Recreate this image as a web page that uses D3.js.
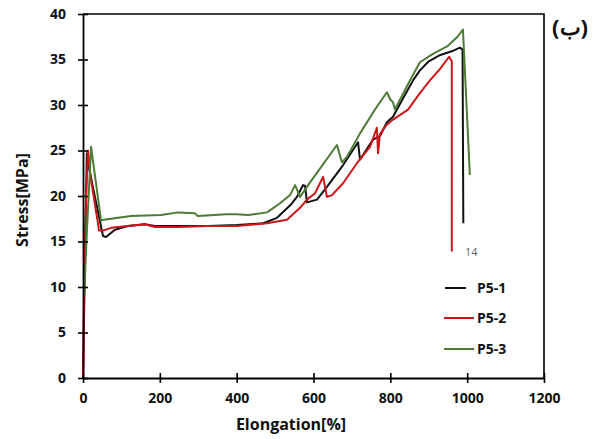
<!DOCTYPE html>
<html><head><meta charset="utf-8">
<script src="https://cdn.jsdelivr.net/npm/d3@7/dist/d3.min.js"></script>
<style>
html,body{margin:0;padding:0;background:#fff;}
svg{display:block;}
text{font-family:"Open Sans","Liberation Sans",sans-serif;}
</style></head><body>
<svg id="chart" width="593" height="439"></svg>
<script>
// ---- data ----
const xTicks = [0, 200, 400, 600, 800, 1000, 1200];
const yTicks = [0, 5, 10, 15, 20, 25, 30, 35, 40];
const seriesNames = ["P5-1", "P5-2", "P5-3"];
const seriesColors = ["#111111", "#cc1518", "#4f7a36"];

const p51 = [[0,0],[2,5],[6,15],[10,24.7],[16,23],[52,15.6],[60,15.5],[83,16.3],[117,16.7],[161,16.9],[187,16.7],[247,16.7],[325,16.7],[400,16.8],[469,17],[505,17.6],[540,19],[557,19.9],[573,21.2],[578,21.1],[583,19.3],[609,19.6],[635,21],[677,23.4],[716,25.9],[721,24],[755,26.2],[773,26.6],[791,28.1],[807,28.7],[830,30.5],[859,32.7],[877,33.8],[900,34.8],[930,35.5],[960,35.9],[981,36.3],[988,36.1],[990,17]];
const p52 = [[0,0],[3,10],[8,20],[13,25],[20,22],[42,16.2],[52,16.2],[73,16.5],[117,16.7],[161,16.9],[187,16.6],[247,16.6],[325,16.7],[400,16.7],[479,17],[531,17.4],[565,18.7],[583,19.6],[604,20.3],[625,22.1],[635,19.9],[648,20.1],[677,21.4],[713,23.6],[747,25.4],[765,27.5],[768,24.7],[773,26.8],[790,27.8],[807,28.4],[846,29.5],[875,31.2],[903,32.7],[930,34],[953,35.3],[960,34.8],[960,13.9]];
const p53 = [[3,9],[10,16],[21,25.4],[47,17.3],[54,17.4],[125,17.8],[203,17.9],[247,18.2],[291,18.1],[299,17.8],[374,18],[400,18],[430,17.9],[479,18.2],[513,19.2],[539,20.1],[552,21.2],[565,19.9],[578,20.7],[591,21.5],[661,25.6],[674,23.7],[687,24.3],[720,26.8],[760,29.5],[791,31.4],[800,30.6],[807,30.3],[812,29.5],[851,32.7],[877,34.7],[910,35.6],[950,36.5],[975,37.5],[989,38.3],[1007,22.3]];
const seriesData = [p51, p52, p53];

const annotText = "14";
const panelLabel = "(ب)";
const xTitle = "Elongation[%]";
const yTitle = "Stress[MPa]";

// ---- layout ----
const svg = d3.select("#chart");
const L = 83, R = 544, T = 14, B = 378;
const x = d3.scaleLinear().domain([0, 1200]).range([L, R]);
const y = d3.scaleLinear().domain([0, 40]).range([B, T]);

// frame top/right
svg.append("path")
  .attr("d", `M${L},${T}H${R}V${B}`)
  .attr("fill", "none").attr("stroke", "#000").attr("stroke-width", 1.6);

// series
const line = d3.line().x(d => x(d[0])).y(d => y(d[1]));
seriesData.forEach((s, i) => {
  svg.append("path").datum(s)
    .attr("d", line)
    .attr("fill", "none")
    .attr("stroke", seriesColors[i])
    .attr("stroke-width", 2)
    .attr("stroke-linejoin", "round");
});

// axes
const xAxis = svg.append("g").attr("transform", `translate(0,${B})`)
  .call(d3.axisBottom(x).tickValues(xTicks).tickFormat(d3.format("d")).tickSize(5).tickSizeOuter(0).tickPadding(10));
xAxis.selectAll(".tick line").attr("y1", -5).attr("stroke-width", 1.6);
const yAxis = svg.append("g").attr("transform", `translate(${L},0)`)
  .call(d3.axisLeft(y).tickValues(yTicks).tickFormat(d3.format("d")).tickSize(5).tickSizeOuter(0).tickPadding(12));
yAxis.selectAll(".tick line").attr("x1", 5).attr("stroke-width", 1.6);
[xAxis, yAxis].forEach(a => {
  a.select(".domain").attr("stroke-width", 1.8);
  a.selectAll("text").attr("font-size", 14).attr("font-weight", 700)
    .attr("font-family", '"Open Sans", sans-serif').attr("fill", "#111");
});

// axis titles
svg.append("text").attr("x", 291).attr("y", 430)
  .attr("text-anchor", "middle").attr("font-size", 16).attr("font-weight", 700)
  .attr("fill", "#111").text(xTitle);
svg.append("text").attr("transform", "translate(28,200) rotate(-90)")
  .attr("text-anchor", "middle").attr("font-size", 16).attr("font-weight", 700)
  .attr("fill", "#111").text(yTitle);

// legend
const legY = [288, 318, 349];
const legX0 = [445, 444, 444], legX1 = [466, 474, 474];
seriesNames.forEach((n, i) => {
  svg.append("line").attr("x1", legX0[i]).attr("x2", legX1[i])
    .attr("y1", legY[i]).attr("y2", legY[i])
    .attr("stroke", seriesColors[i]).attr("stroke-width", 2);
  svg.append("text").attr("x", 477).attr("y", legY[i] + 5)
    .attr("font-size", 14).attr("font-weight", 700).attr("fill", "#111").text(n);
});

// annotation
svg.append("text").attr("x", 465).attr("y", 256)
  .attr("font-size", 11).attr("fill", "#666").text(annotText);

// panel label
svg.append("text").attr("x", 570).attr("y", 35)
  .attr("text-anchor", "middle").attr("font-size", 22).attr("font-weight", 700)
  .attr("font-family", '"DejaVu Sans", sans-serif').attr("fill", "#111")
  .text(panelLabel);
</script>
</body></html>
